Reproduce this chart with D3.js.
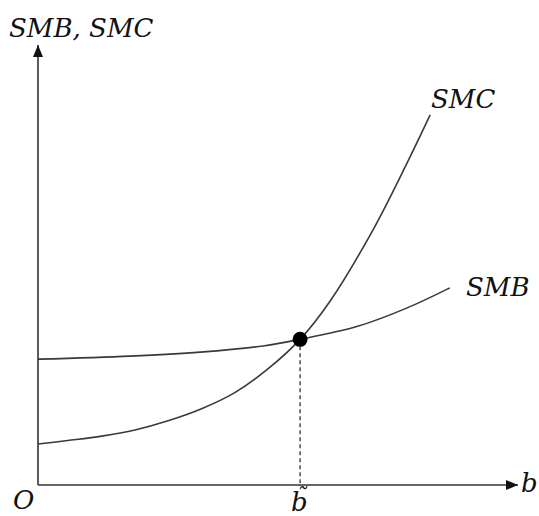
<!DOCTYPE html>
<html>
<head>
<meta charset="utf-8">
<script src="https://cdn.jsdelivr.net/npm/d3@7"></script>
<style>
  html, body { margin: 0; padding: 0; background: #fff; }
  svg { display: block; }
  .lbl { font-family: "DejaVu Serif", "Liberation Serif", serif; font-style: italic; font-size: 26px; fill: #111; }
</style>
</head>
<body>
<svg id="chart" width="539" height="516"></svg>
<script>
// Quantity b along the horizontal axis, value along the vertical axis
const smcB = [0, 0.62, 1.33, 2.02, 2.71, 3.42, 4.1, 4.77, 5.46, 6.08, 6.98, 7.69, 8.17];
const smcV = [0.93, 1.01, 1.11, 1.25, 1.46, 1.74, 2.10, 2.62, 3.31, 4.17, 5.80, 7.32, 8.41];
const smbB = [0, 1.92, 3.38, 4.69, 5.46, 6.64, 7.68, 8.58];
const smbV = [2.86, 2.93, 3.02, 3.16, 3.31, 3.60, 4.02, 4.48];
const optimum = { b: 5.46, v: 3.31 };
const axisMax = { b: 10, v: 10 };

const svg = d3.select("#chart");
const x = d3.scaleLinear().domain([0, axisMax.b]).range([38, 518]);
const y = d3.scaleLinear().domain([0, axisMax.v]).range([485, 45]);

// arrowhead marker
svg.append("defs").append("marker")
  .attr("id", "arrow")
  .attr("viewBox", "0 0 12 10")
  .attr("refX", 12).attr("refY", 5)
  .attr("markerWidth", 12).attr("markerHeight", 10)
  .attr("markerUnits", "userSpaceOnUse")
  .attr("orient", "auto")
  .append("path").attr("d", "M0,0 L12,5 L0,10 Z").attr("fill", "#111");

// axes
svg.append("line")
  .attr("x1", x(0)).attr("y1", y(0)).attr("x2", x(axisMax.b)).attr("y2", y(0))
  .attr("stroke", "#333").attr("stroke-width", 1.6).attr("marker-end", "url(#arrow)");
svg.append("line")
  .attr("x1", x(0)).attr("y1", y(0)).attr("x2", x(0)).attr("y2", y(axisMax.v))
  .attr("stroke", "#333").attr("stroke-width", 1.6).attr("marker-end", "url(#arrow)");

const line = d3.line()
  .x(d => x(d[0])).y(d => y(d[1]))
  .curve(d3.curveCatmullRom.alpha(0.5));

const smc = smcB.map((b, i) => [b, smcV[i]]);
const smb = smbB.map((b, i) => [b, smbV[i]]);

svg.append("path").datum(smc).attr("d", line)
  .attr("fill", "none").attr("stroke", "#3a3a3a").attr("stroke-width", 1.6);
svg.append("path").datum(smb).attr("d", line)
  .attr("fill", "none").attr("stroke", "#3a3a3a").attr("stroke-width", 1.6);

// drop line to the optimum quantity
svg.append("line")
  .attr("x1", x(optimum.b)).attr("y1", y(optimum.v))
  .attr("x2", x(optimum.b)).attr("y2", y(0))
  .attr("stroke", "#222").attr("stroke-width", 1.2).attr("stroke-dasharray", "4,3");

svg.append("circle")
  .attr("cx", x(optimum.b)).attr("cy", y(optimum.v)).attr("r", 7.5)
  .attr("fill", "#000");

// labels
svg.append("text").attr("class", "lbl").attr("x", 9).attr("y", 37).text("SMB, SMC");
svg.append("text").attr("class", "lbl").attr("x", 431).attr("y", 108).text("SMC");
svg.append("text").attr("class", "lbl").attr("x", 466).attr("y", 296).text("SMB");
svg.append("text").attr("class", "lbl").attr("x", 13).attr("y", 509).text("O");
svg.append("text").attr("class", "lbl").attr("x", 521).attr("y", 492).text("b");

// optimum quantity label: b with a tilde accent, kept in one text element
const bt = svg.append("text").attr("class", "lbl")
  .attr("x", x(optimum.b) - 9).attr("y", 511);
bt.append("tspan").text("b");
bt.append("tspan").attr("dx", -12).attr("dy", -7)
  .style("font-size", "22px").text("\u02DC");
</script>
</body>
</html>
